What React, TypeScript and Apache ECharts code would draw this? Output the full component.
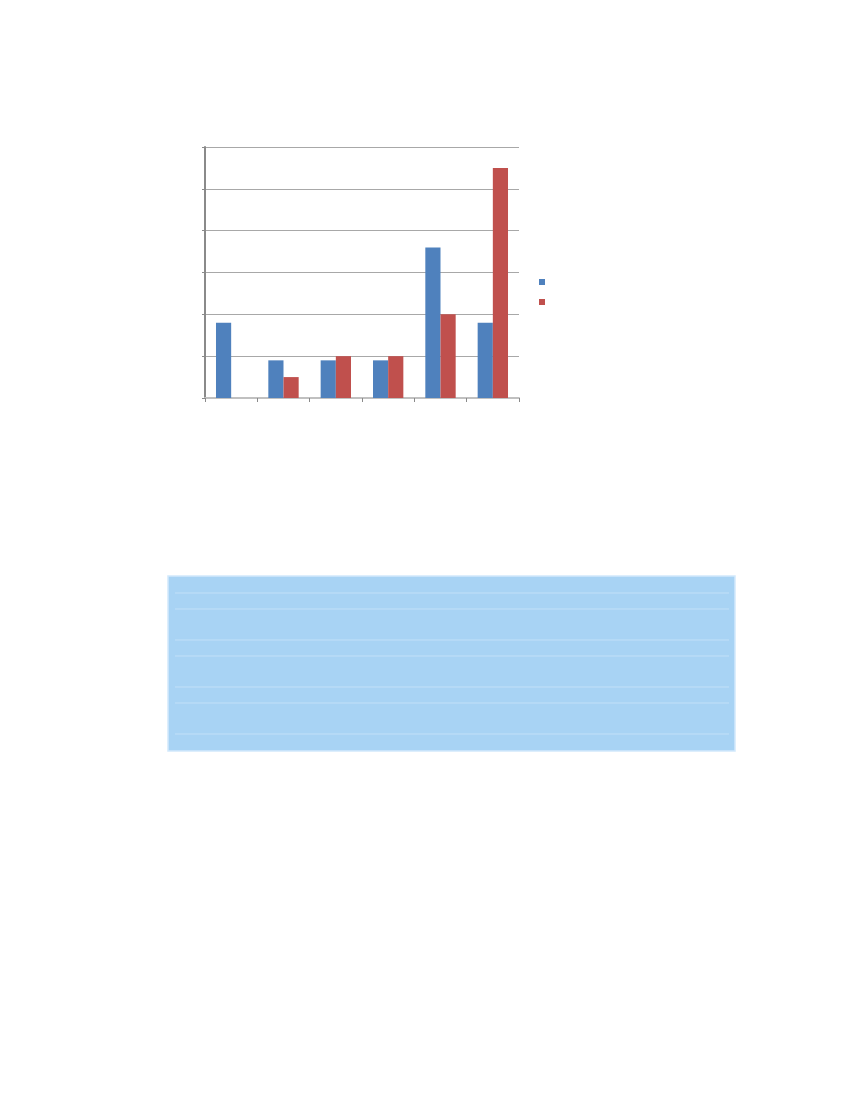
import { useEffect, useRef } from 'react';
import * as echarts from 'echarts';

const categories = ['1', '2', '3', '4', '5', '6'];
const seriesNames = ['Series 1', 'Series 2'];
const blueValues = [1.8, 0.9, 0.9, 0.9, 3.6, 1.8];
const redValues = [0, 0.5, 1.0, 1.0, 2.0, 5.5];

// light-blue box under the chart, with its faint row rules
const tableRuleYs = [593, 609, 640, 656, 687, 703, 734];

export default function App() {
  const ref = useRef<HTMLDivElement>(null);

  useEffect(() => {
    if (!ref.current) return;
    const chart = echarts.init(ref.current, undefined, { renderer: 'svg' });
    chart.setOption({
      animation: false,
      grid: { left: 205, top: 147, width: 314, height: 251 },
      legend: {
        orient: 'vertical',
        left: 534,
        top: 274,
        itemWidth: 6,
        itemHeight: 6,
        itemGap: 14,
        icon: 'rect',
        formatter: () => '',
        selectedMode: false,
        data: seriesNames,
      },
      xAxis: {
        type: 'category',
        data: categories,
        axisLabel: { show: false },
        axisLine: { lineStyle: { color: '#c0c0c0', width: 2 } },
        axisTick: { show: true, length: 4, lineStyle: { color: '#8a8a8a' } },
      },
      yAxis: {
        type: 'value',
        min: 0,
        max: 6,
        interval: 1,
        axisLabel: { show: false },
        axisLine: { show: true, lineStyle: { color: '#8a8a8a', width: 2 } },
        axisTick: { show: true, length: 3, lineStyle: { color: '#8a8a8a' } },
        splitLine: { lineStyle: { color: '#a8a8a8', width: 1 } },
      },
      series: [
        {
          name: seriesNames[0],
          type: 'bar',
          data: blueValues,
          itemStyle: { color: '#4f81bd' },
          barGap: '0%',
          barCategoryGap: '42%',
        },
        {
          name: seriesNames[1],
          type: 'bar',
          data: redValues,
          itemStyle: { color: '#c0504d' },
          barGap: '0%',
          barCategoryGap: '42%',
        },
      ],
      graphic: [
        {
          type: 'rect',
          shape: { x: 168, y: 576, width: 567, height: 175 },
          style: { fill: '#a8d3f4', stroke: '#d2e9fb', lineWidth: 1.5 },
        },
        ...tableRuleYs.map((y) => ({
          type: 'line',
          shape: { x1: 175, y1: y, x2: 729, y2: y },
          style: { stroke: '#c2e0f8', lineWidth: 1 },
        })),
      ],
    });
    return () => chart.dispose();
  }, []);

  return (
    <div
      ref={ref}
      style={{ position: 'absolute', left: 0, top: 0, width: 850, height: 1100 }}
    />
  );
}
